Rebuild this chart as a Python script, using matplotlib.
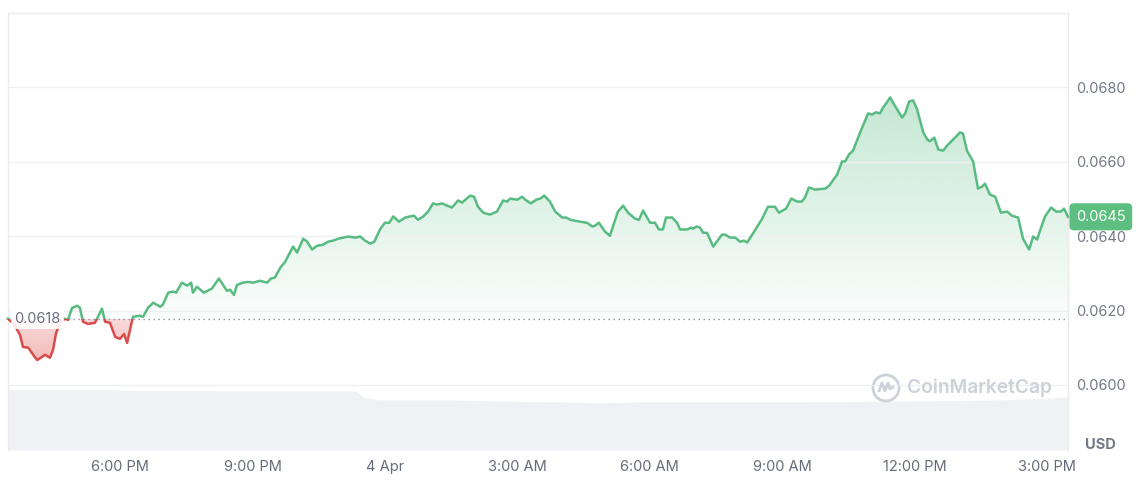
import numpy as np
import matplotlib
matplotlib.use("Agg")
import matplotlib.pyplot as plt
import matplotlib.colors as mcolors
import matplotlib.transforms as mtransforms
from matplotlib.patches import Rectangle, Ellipse
from matplotlib.path import Path
from matplotlib.lines import Line2D

plt.rcParams['font.family'] = ['Inter', 'DejaVu Sans']

# ---------------- data ----------------
# time in hours since 3 Apr 00:00
time_h = [
    15.46, 15.60, 15.73, 15.80, 15.92, 16.03, 16.12, 16.23, 16.30, 16.41,
    16.48, 16.55, 16.66, 16.75, 16.82, 16.91, 17.03, 17.09, 17.16, 17.27,
    17.43, 17.59, 17.66, 17.77, 17.89, 18.00, 18.09, 18.16, 18.29, 18.45,
    18.52, 18.63, 18.75, 18.91, 18.97, 19.09, 19.20, 19.27, 19.40, 19.52,
    19.61, 19.65, 19.74, 19.90, 20.08, 20.24, 20.42, 20.49, 20.58, 20.65,
    20.79, 20.90, 21.01, 21.17, 21.33, 21.42, 21.51, 21.63, 21.74, 21.92,
    22.01, 22.15, 22.24, 22.35, 22.46, 22.60, 22.71, 22.83, 22.94, 23.17,
    23.33, 23.44, 23.55, 23.67, 23.76, 23.89, 24.00, 24.10, 24.19, 24.32,
    24.46, 24.57, 24.66, 24.75, 24.87, 24.98, 25.09, 25.18, 25.30, 25.41,
    25.52, 25.66, 25.75, 25.93, 26.02, 26.11, 26.23, 26.38, 26.54, 26.68,
    26.77, 26.84, 27.00, 27.11, 27.18, 27.31, 27.43, 27.52, 27.61, 27.74,
    27.86, 28.02, 28.11, 28.20, 28.42, 28.58, 28.70, 28.76, 28.85, 28.99,
    29.10, 29.28, 29.40, 29.51, 29.67, 29.76, 29.85, 30.01, 30.12, 30.21,
    30.30, 30.37, 30.51, 30.62, 30.69, 30.85, 30.94, 30.98, 31.07, 31.14,
    31.21, 31.30, 31.44, 31.64, 31.71, 31.82, 31.94, 32.05, 32.14, 32.21,
    32.34, 32.55, 32.68, 32.84, 32.93, 33.09, 33.21, 33.34, 33.45, 33.52,
    33.61, 33.75, 33.98, 34.07, 34.25, 34.36, 34.43, 34.52, 34.61, 34.77,
    34.95, 35.04, 35.13, 35.22, 35.29, 35.36, 35.45, 35.54, 35.72, 35.79,
    35.88, 35.97, 36.06, 36.20, 36.29, 36.35, 36.45, 36.54, 36.65, 36.76,
    36.97, 37.03, 37.10, 37.19, 37.33, 37.44, 37.53, 37.60, 37.71, 37.83,
    37.96, 38.10, 38.21, 38.35, 38.46, 38.60, 38.69, 38.78, 38.87, 38.96,
    39.10, 39.21, 39.32, 39.39, 39.48,
]

price_usd = [
    0.06178, 0.06162, 0.06135, 0.06102, 0.06100, 0.06081, 0.06067, 0.06075, 0.06081, 0.06073,
    0.06094, 0.06140, 0.06170, 0.06178, 0.06175, 0.06207, 0.06213, 0.06207, 0.06170, 0.06164,
    0.06167, 0.06205, 0.06170, 0.06167, 0.06129, 0.06124, 0.06137, 0.06113, 0.06183, 0.06186,
    0.06183, 0.06207, 0.06221, 0.06210, 0.06216, 0.06248, 0.06251, 0.06248, 0.06275, 0.06267,
    0.06275, 0.06248, 0.06264, 0.06248, 0.06259, 0.06286, 0.06253, 0.06256, 0.06242, 0.06269,
    0.06275, 0.06277, 0.06275, 0.06280, 0.06275, 0.06286, 0.06289, 0.06315, 0.06331, 0.06372,
    0.06356, 0.06393, 0.06385, 0.06364, 0.06374, 0.06377, 0.06385, 0.06388, 0.06393, 0.06399,
    0.06396, 0.06399, 0.06388, 0.06380, 0.06385, 0.06418, 0.06436, 0.06436, 0.06453, 0.06439,
    0.06450, 0.06453, 0.06455, 0.06444, 0.06453, 0.06466, 0.06488, 0.06485, 0.06488, 0.06482,
    0.06477, 0.06496, 0.06490, 0.06509, 0.06506, 0.06479, 0.06463, 0.06458, 0.06466, 0.06496,
    0.06493, 0.06501, 0.06498, 0.06506, 0.06498, 0.06488, 0.06498, 0.06501, 0.06509, 0.06493,
    0.06466, 0.06450, 0.06450, 0.06444, 0.06439, 0.06436, 0.06426, 0.06428, 0.06436, 0.06412,
    0.06401, 0.06466, 0.06482, 0.06463, 0.06447, 0.06444, 0.06469, 0.06436, 0.06436, 0.06418,
    0.06418, 0.06450, 0.06450, 0.06436, 0.06418, 0.06418, 0.06423, 0.06420, 0.06426, 0.06423,
    0.06409, 0.06409, 0.06372, 0.06404, 0.06404, 0.06396, 0.06396, 0.06385, 0.06388, 0.06383,
    0.06407, 0.06447, 0.06479, 0.06479, 0.06463, 0.06474, 0.06501, 0.06493, 0.06493, 0.06504,
    0.06531, 0.06525, 0.06528, 0.06536, 0.06566, 0.06601, 0.06601, 0.06620, 0.06630, 0.06679,
    0.06730, 0.06727, 0.06733, 0.06730, 0.06746, 0.06757, 0.06773, 0.06754, 0.06719, 0.06730,
    0.06762, 0.06765, 0.06741, 0.06679, 0.06660, 0.06655, 0.06665, 0.06633, 0.06630, 0.06646,
    0.06671, 0.06679, 0.06676, 0.06630, 0.06601, 0.06528, 0.06533, 0.06541, 0.06512, 0.06506,
    0.06463, 0.06466, 0.06455, 0.06450, 0.06393, 0.06364, 0.06399, 0.06391, 0.06423, 0.06453,
    0.06477, 0.06466, 0.06466, 0.06474, 0.06452,
]

# 24h volume (millions USD, approximate relative heights)
vol_time_h = [15.46, 16.41, 17.55, 18.68, 19.81, 20.95, 22.08, 23.33, 23.55, 23.89,
              25.48, 26.61, 27.74, 28.88, 30.01, 31.14, 32.28, 33.41, 34.54, 35.68,
              36.81, 37.94, 39.07, 39.48]
volume_musd = [15.0, 15.0, 15.0, 14.8, 14.8, 14.7, 14.7, 14.7, 13.0, 12.5,
               12.5, 12.2, 12.0, 11.8, 12.0, 12.0, 12.0, 12.0, 12.1, 12.2,
               12.3, 12.5, 13.0, 13.2]

x_ticks = [18, 21, 24, 27, 30, 33, 36, 39]
x_labels = ["6:00 PM", "9:00 PM", "4 Apr", "3:00 AM", "6:00 AM", "9:00 AM", "12:00 PM", "3:00 PM"]
y_ticks = [0.0600, 0.0620, 0.0640, 0.0660, 0.0680]
y_labels = ["0.0600", "0.0620", "0.0640", "0.0660", "0.0680"]
open_label = "0.0618"
last_label = "0.0645"

assert len(time_h) == len(price_usd)

GREEN = "#58bc82"
GREEN_BOX = "#5cbf80"
RED = "#d94c4c"
TICK_C = "#737986"
GRID_C = "#eef0f2"
FS = 10.5

t = np.array(time_h)
p = np.array(price_usd)
base = p[0]
x0, x1 = t[0], t[-1]

# ---------------- figure ----------------
W, H = 1140, 492
fig = plt.figure(figsize=(W / 100, H / 100), dpi=100)
rect = [8 / W, 42 / H, 1060 / W, 437 / H]
axv = fig.add_axes(rect, zorder=0)
ax = fig.add_axes(rect, zorder=1)
ax.patch.set_visible(False)

# volume area
axv.fill_between(vol_time_h, volume_musd, 0, color="#eff1f5", lw=0)
axv.set_xlim(x0, x1)
axv.set_ylim(0, 109)
axv.axis("off")


def gradient_region(ax, x, y, base, above, color, a_near, a_far, far):
    where = y >= base if above else y <= base
    coll = ax.fill_between(x, y, base, where=where, interpolate=True,
                           facecolor="none", edgecolor="none")
    paths = coll.get_paths()
    coll.remove()
    if not paths:
        return
    clip = Path.make_compound_path(*paths)
    n = 256
    img = np.zeros((n, 2, 4))
    img[..., :3] = mcolors.to_rgb(color)
    alphas = np.linspace(a_far, a_near, n) if above else np.linspace(a_near, a_far, n)
    img[..., 3] = alphas[:, None]
    lo, hi = (base, far) if above else (far, base)
    im = ax.imshow(img, extent=[x[0], x[-1], lo, hi], origin="upper",
                   aspect="auto", interpolation="bilinear", zorder=1)
    im.set_clip_path(clip, transform=ax.transData)


gradient_region(ax, t, p, base, True, GREEN, 0.02, 0.36, 0.0679)
gradient_region(ax, t, p, base, False, "#e25555", 0.22, 0.42, 0.0606)

# lines, split at the opening price
ln_g, = ax.plot(t, p, color=GREEN, lw=1.8, zorder=3, solid_joinstyle="round")
ln_g.set_clip_path(Rectangle((x0 - 1, base), x1 - x0 + 2, 1.0, transform=ax.transData))
ln_r, = ax.plot(t, p, color=RED, lw=1.8, zorder=3, solid_joinstyle="round")
ln_r.set_clip_path(Rectangle((x0 - 1, base - 1.0), x1 - x0 + 2, 1.0, transform=ax.transData))

# dotted opening line
ax.axhline(base, color="#8a909c", lw=1, ls=(0, (1, 2.6)), zorder=2)
ax.text(15.60, base, open_label, color="#6a7080", fontsize=FS, ha="left", va="center",
        zorder=5, bbox=dict(fc="white", ec="none", alpha=0.88, pad=2.5))

# axes formatting
ax.set_xlim(x0, x1)
ax.set_ylim(0.05825, 0.0700)
ax.set_xticks(x_ticks)
ax.set_xticklabels(x_labels)
ax.set_yticks(y_ticks)
ax.set_yticklabels(y_labels)
ax.yaxis.tick_right()
ax.grid(axis="y", color=GRID_C, lw=1, zorder=0)
ax.grid(axis="x", visible=False)
ax.tick_params(axis="y", length=0, pad=5.5, labelcolor=TICK_C, labelsize=FS)
ax.tick_params(axis="x", length=0, pad=7.5, labelcolor="#666c7a", labelsize=FS)
for s in ["top", "left", "right"]:
    ax.spines[s].set_color("#ebebeb")
    ax.spines[s].set_linewidth(1)
ax.spines["bottom"].set_visible(False)

# last price tag
trans = mtransforms.blended_transform_factory(ax.transAxes, ax.transData)
ax.text(1 + 8 / 1060, p[-1], last_label, transform=trans, color="white", fontsize=FS,
        ha="left", va="center", zorder=6, clip_on=False,
        bbox=dict(boxstyle="round,pad=0.45,rounding_size=0.3", fc=GREEN_BOX, ec="none"))

# USD label
fig.text(1100 / W, (H - 445) / H, "USD", ha="center", va="center", fontsize=FS,
         fontweight="bold", color=TICK_C)

# watermark
wm = "#cdd1d8"
cx, cy = 886, H - 388
fig.add_artist(Ellipse((cx / W, cy / H), 26 / W, 26 / H, transform=fig.transFigure,
                       fill=False, ec=wm, lw=2.0))
mx = np.array([-7, -4, -1, 2, 4, 7]) + cx
my = np.array([-3, 5, -3, 5, -1, 1]) + cy
fig.add_artist(Line2D(mx / W, my / H, transform=fig.transFigure, color=wm, lw=2.0,
                      solid_joinstyle="round", solid_capstyle="round"))
fig.text(907 / W, cy / H, "CoinMarketCap", ha="left", va="center", fontsize=13.8,
         fontweight="semibold", color=wm)

fig.savefig("out.png", dpi=100, facecolor="white")
